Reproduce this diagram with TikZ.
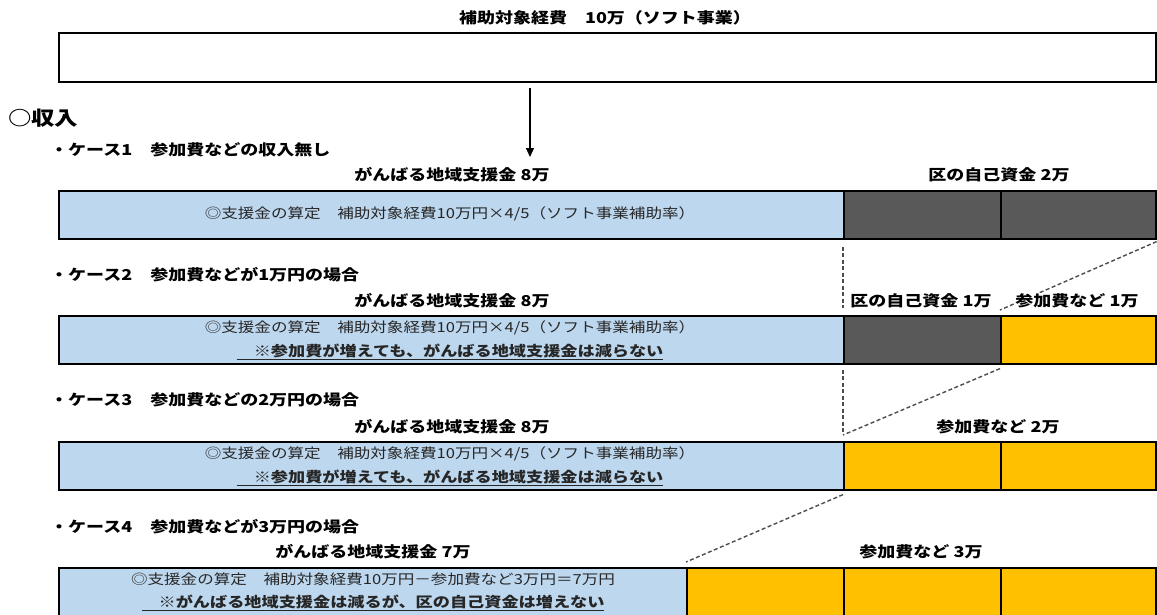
\documentclass[tikz,border=0pt]{standalone}
\usepackage{fontspec}
\setmainfont{Noto Sans CJK JP}[FakeStretch=1.2]
\usetikzlibrary{arrows.meta}
\definecolor{bluefill}{HTML}{BDD7EE}
\definecolor{darkfill}{HTML}{595959}
\definecolor{orangefill}{HTML}{FFC000}
\tikzset{
  seg/.style={draw=black, line width=1.6pt, inner sep=0pt, anchor=north west, minimum height=48pt},
  lbl/.style={font=\fontsize{15}{18}\selectfont\bfseries, fill=white, inner sep=1pt},
  head/.style={font=\fontsize{15}{18}\selectfont\bfseries, anchor=west, inner sep=0pt},
  calc/.style={font=\fontsize{13.8}{16}\selectfont, inner sep=0pt, text=black!85},
  note/.style={font=\fontsize{14.3}{16}\selectfont\bfseries, inner sep=0pt, text=black!85},
  dline/.style={dash pattern=on 4pt off 2.5pt, line width=1.4pt, draw=black!70},
}
\begin{document}
\begin{tikzpicture}[x=1pt, y=-1pt]
\useasboundingbox (0,0) rectangle (1157,614);

% top box
\node[lbl] (title) at (605,18) {補助対象経費　10万（ソフト事業）};
\node[seg, minimum width=1097pt, minimum height=49pt, line width=1.8pt] (top) at (58,32) {};
\coordinate (arrS) at (530,88);
\coordinate (arrE) at (530,157);
\draw[line width=1.2pt, -{Triangle[length=9pt,width=8pt]}] (arrS) -- (arrE);

\node[head, font=\fontsize{19.5}{22}\selectfont\bfseries] (income) at (8,118) {○収入};

% case 1
\node[head] (h1) at (50,150) {・ケース1　参加費などの収入無し};
\node[lbl] (l1a) at (452,175) {がんばる地域支援金 8万};
\node[lbl] (l1b) at (999,175) {区の自己資金 2万};
\node[seg, fill=bluefill, minimum width=785pt] (c1b) at (58,190) {};
\node[seg, fill=darkfill, minimum width=157pt] (c1d1) at (843,190) {};
\node[seg, fill=darkfill, minimum width=155pt] (c1d2) at (1000,190) {};
\node[calc] (t1) at (450,214) {◎支援金の算定　補助対象経費10万円×4/5（ソフト事業補助率）};

% case 2
\node[head] (h2) at (50,275) {・ケース2　参加費などが1万円の場合};
\node[seg, fill=bluefill, minimum width=785pt] (c2b) at (58,315) {};
\node[seg, fill=darkfill, minimum width=157pt] (c2d1) at (843,315) {};
\node[seg, fill=orangefill, minimum width=155pt] (c2o) at (1000,315) {};
\node[calc] (t2a) at (450,328) {◎支援金の算定　補助対象経費10万円×4/5（ソフト事業補助率）};
\node[note] (t2b) at (450,352) {\underline{　※参加費が増えても、がんばる地域支援金は減らない}};

% case 3
\node[head] (h3) at (50,400) {・ケース3　参加費などの2万円の場合};
\node[seg, fill=bluefill, minimum width=785pt] (c3b) at (58,441) {};
\node[seg, fill=orangefill, minimum width=157pt] (c3o1) at (843,441) {};
\node[seg, fill=orangefill, minimum width=155pt] (c3o2) at (1000,441) {};
\node[calc] (t3a) at (450,454) {◎支援金の算定　補助対象経費10万円×4/5（ソフト事業補助率）};
\node[note] (t3b) at (450,478) {\underline{　※参加費が増えても、がんばる地域支援金は減らない}};

% case 4
\node[head] (h4) at (50,527) {・ケース4　参加費などが3万円の場合};
\node[seg, fill=bluefill, minimum width=628pt] (c4b) at (58,567) {};
\node[seg, fill=orangefill, minimum width=157pt] (c4o1) at (686,567) {};
\node[seg, fill=orangefill, minimum width=157pt] (c4o2) at (843,567) {};
\node[seg, fill=orangefill, minimum width=155pt] (c4o3) at (1000,567) {};
\node[calc] (t4a) at (373,579) {◎支援金の算定　補助対象経費10万円－参加費など3万円＝7万円};
\node[note] (t4b) at (373,603) {\underline{　※がんばる地域支援金は減るが、区の自己資金は増えない}};

% dashed guides
\draw[dline] ([yshift=-7pt]c1d1.south west) -- ([yshift=7pt]c2d1.north west);
\draw[dline] ([yshift=-2pt]c1d2.south east) -- ([yshift=5pt]c2o.north west);
\draw[dline] ([yshift=-5pt]c2d1.south west) -- ([yshift=8pt]c3o1.north west);
\draw[dline] ([yshift=-4pt]c2o.south west) -- ([yshift=6pt]c3o1.north west);
\draw[dline] ([yshift=-4pt]c3o1.south west) -- ([yshift=5pt]c4o1.north west);

% labels above bars (drawn after dashes so they mask them)
\node[lbl] (l2a) at (452,301) {がんばる地域支援金 8万};
\node[lbl] (l2b) at (921,301) {区の自己資金 1万};
\node[lbl] (l2c) at (1077,301) {参加費など 1万};
\node[lbl] (l3a) at (452,427) {がんばる地域支援金 8万};
\node[lbl] (l3b) at (998,427) {参加費など 2万};
\node[lbl] (l4a) at (373,552) {がんばる地域支援金 7万};
\node[lbl] (l4b) at (921,552) {参加費など 3万};
\end{tikzpicture}
\end{document}
